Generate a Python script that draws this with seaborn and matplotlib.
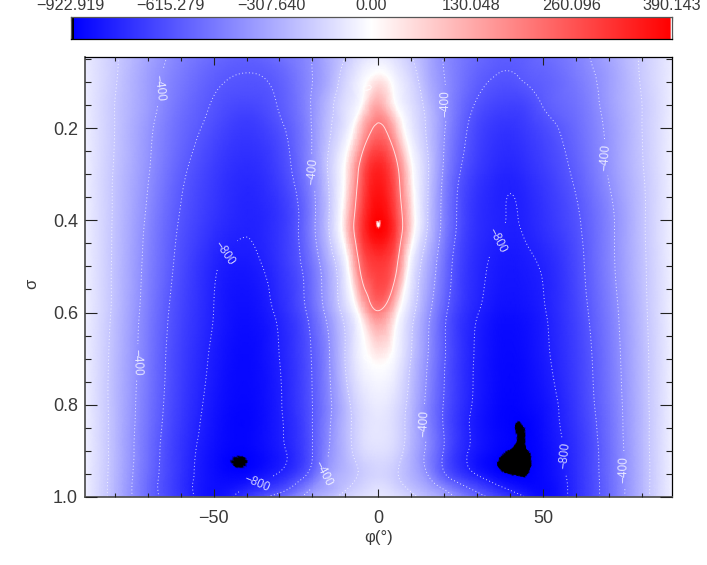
import numpy as np
import seaborn as sns
import matplotlib
matplotlib.use("Agg")
import matplotlib.pyplot as plt
import matplotlib.tri as tri
from matplotlib.colors import LinearSegmentedColormap, TwoSlopeNorm
from matplotlib.ticker import FixedLocator, NullFormatter

# values, one list per sigma row
phi = [-89, -80, -70, -60, -50, -40, -30, -20, -15, -10, -5, 0, 5, 10, 15, 20, 30, 35, 40, 45, 50, 60, 70, 80, 89]
sigma = [0.046, 0.10, 0.15, 0.20, 0.30, 0.40, 0.50, 0.60, 0.70, 0.80, 0.85, 0.90, 0.95, 0.98, 1.00]

s046 = [-70, -185, -320, -450, -530, -570, -510, -400, -290, -200, -110, -70, -110, -195, -300, -410, -530, -570, -580, -565, -530, -450, -320, -185, -70]
s010 = [-65, -190, -345, -480, -580, -615, -570, -400, -285, -145, -30, 45, -30, -140, -280, -395, -570, -610, -620, -595, -570, -480, -345, -190, -65]
s015 = [-60, -200, -350, -505, -610, -660, -590, -385, -240, -110, 10, 130, 10, -110, -240, -385, -615, -665, -680, -660, -595, -505, -350, -200, -60]
s020 = [-58, -200, -370, -530, -640, -710, -625, -390, -220, -85, 110, 215, 110, -75, -220, -390, -660, -715, -730, -700, -650, -530, -370, -200, -58]
s030 = [-55, -210, -390, -575, -700, -765, -680, -405, -185, 20, 250, 345, 250, 25, -190, -425, -710, -765, -785, -755, -705, -575, -390, -210, -55]
s040 = [-55, -215, -420, -610, -730, -790, -725, -440, -200, 65, 300, 388, 300, 65, -200, -450, -745, -785, -803, -785, -740, -620, -435, -220, -55]
s050 = [-55, -220, -440, -640, -785, -830, -735, -495, -290, -50, 230, 300, 230, -55, -290, -510, -770, -815, -835, -820, -790, -650, -440, -225, -55]
s060 = [-55, -225, -460, -665, -800, -865, -775, -540, -345, -150, 60, 190, 60, -155, -365, -570, -795, -848, -865, -850, -810, -670, -465, -235, -55]
s070 = [-55, -240, -475, -685, -820, -885, -800, -590, -410, -195, -35, 20, -35, -205, -400, -590, -815, -870, -890, -870, -825, -690, -485, -245, -55]
s080 = [-55, -245, -490, -700, -840, -895, -810, -600, -430, -250, -115, -70, -115, -250, -440, -610, -825, -880, -905, -890, -855, -710, -500, -250, -55]
s085 = [-55, -245, -500, -712, -852, -900, -815, -600, -415, -250, -125, -90, -130, -260, -435, -610, -835, -885, -910, -912, -868, -725, -510, -252, -55]
s090 = [-55, -245, -510, -725, -865, -905, -825, -600, -400, -255, -140, -110, -145, -270, -430, -610, -840, -890, -917, -917, -880, -740, -520, -255, -55]
s095 = [-55, -250, -520, -730, -870, -890, -790, -540, -340, -255, -185, -150, -185, -275, -405, -590, -810, -880, -917, -917, -885, -745, -525, -258, -55]
s098 = [-55, -255, -530, -735, -865, -800, -670, -400, -300, -215, -150, -110, -150, -225, -310, -425, -650, -745, -825, -875, -890, -750, -530, -258, -55]
s100 = [-55, -255, -525, -725, -860, -720, -540, -325, -235, -165, -110, -90, -110, -170, -250, -325, -550, -635, -730, -810, -880, -750, -530, -258, -55]

bar_labels = ["\u2212922.919", "\u2212615.279", "\u2212307.640", "0.00", "130.048", "260.096", "390.143"]
spots_neg = [(-67, 0.113), (-73, 0.708), (-20, 0.295), (20, 0.146), (70, 0.263), (15, 0.84),
             (-16, 0.953), (74.5, 0.94), (-46, 0.475), (34, 0.436), (56, 0.91), (-37, 0.97)]
spots_zero = [(-6.4, 0.107), (-2.7, 0.70)]

Z_MIN, Z_MAX = -922.919, 390.143

sns.set_theme(style="ticks")
plt.rcParams["font.family"] = ["Liberation Sans", "DejaVu Sans"]
TEXT = "#3a3a3a"

cmap = LinearSegmentedColormap.from_list(
    "bwr_black",
    [(0, "black"), (0.0042, "black"), (0.0043, "blue"), (0.5, "white"),
     (0.9985, "red"), (0.9986, "white"), (1, "white")], N=2048)
norm = TwoSlopeNorm(vmin=Z_MIN, vcenter=0, vmax=Z_MAX)

W, H = 707, 565
fig = plt.figure(figsize=(W / 100, H / 100), dpi=100)
ax = fig.add_axes([85 / W, 1 - 497 / H, 586.7 / W, 440 / H])
cax = fig.add_axes([70.7 / W, 1 - 39.3 / H, 601 / W, 22.6 / H])

# field
z = np.array([s046, s010, s015, s020, s030, s040, s050, s060, s070, s080, s085, s090, s095, s098, s100], dtype=float)
xx, yy = np.meshgrid(phi, sigma)
triang = tri.Triangulation(xx.ravel(), yy.ravel())
fine_tri, fine_z = tri.UniformTriRefiner(triang).refine_field(z.ravel(), subdiv=4)
ax.tripcolor(fine_tri, fine_z, shading="gouraud", cmap=cmap, norm=norm)

dotted = (0, (1, 2.5))
ax.tricontour(fine_tri, fine_z, levels=[-600, -200], colors="white", linewidths=0.7, alpha=0.8, linestyles=[dotted])
neg = ax.tricontour(fine_tri, fine_z, levels=[-800, -400], colors="white", linewidths=0.7, alpha=0.8, linestyles=[dotted])
zero = ax.tricontour(fine_tri, fine_z, levels=[0], colors="white", linewidths=0.7, alpha=0.75)
ax.tricontour(fine_tri, fine_z, levels=[200], colors="white", linewidths=0.7, alpha=0.75)
fmt = lambda v: f"{v:.0f}".replace("-", "\u2212")
ax.clabel(neg, fmt=fmt, fontsize=8.5, colors="white", inline=True, manual=spots_neg)
ax.clabel(zero, fmt=fmt, fontsize=8.5, colors="white", inline=True, manual=spots_zero)

ax.set_xlim(-89, 89)
ax.set_ylim(1.0, 0.046)
ax.set_xticks([-50, 0, 50], ["\u221250", "0", "50"])
ax.xaxis.set_minor_locator(FixedLocator(np.arange(-80, 81, 10)))
ax.set_yticks([0.2, 0.4, 0.6, 0.8, 1.0], ["0.2", "0.4", "0.6", "0.8", "1.0"])
ax.yaxis.set_minor_locator(FixedLocator(np.arange(0.05, 1.0, 0.05)))
ax.xaxis.set_minor_formatter(NullFormatter())
ax.yaxis.set_minor_formatter(NullFormatter())
ax.set_axisbelow(False)
ax.tick_params(axis="x", which="major", direction="in", top=True, bottom=True, length=5.8, width=0.8,
               color="#222222", labelsize=13, labelcolor=TEXT, pad=9.5)
ax.tick_params(axis="x", which="minor", direction="in", top=True, bottom=True, length=2.9, width=0.8, color="#222222")
ax.tick_params(axis="y", which="major", direction="in", left=True, right=True, length=8.6, width=0.8,
               color="#222222", labelsize=13, labelcolor=TEXT, pad=5)
ax.tick_params(axis="y", which="minor", direction="in", left=True, right=True, length=4.3, width=0.8, color="#222222")
for side in ["top", "right"]:
    ax.spines[side].set(color="black", linewidth=0.9)
for side in ["left", "bottom"]:
    ax.spines[side].set(color="#555555", linewidth=1.3)
ax.set_xlabel("\u03c6(\u00b0)", fontsize=12, color=TEXT, va="center")
ax.set_ylabel("\u03c3", fontsize=12, color=TEXT, va="center")
ax.xaxis.set_label_coords(0.5, -0.091)
ax.yaxis.set_label_coords(-0.09, 0.485)

# colour bar
bar_pos = np.linspace(0, 1, 601)
sns.heatmap(bar_pos[np.newaxis, :], cmap=cmap, vmin=0, vmax=1, cbar=False, ax=cax,
            xticklabels=False, yticklabels=False, rasterized=True)
cax.set_yticks([])
cax.set_xticks(np.linspace(0, 601, 7), bar_labels)
cax.xaxis.set_minor_locator(FixedLocator(np.linspace(0, 601, 13)))
cax.xaxis.set_minor_formatter(NullFormatter())
cax.tick_params(axis="x", which="both", direction="in", top=True, bottom=True, labeltop=True, labelbottom=False,
                length=3, width=0.8, color="#222222", labelsize=11.7, labelcolor=TEXT, pad=2.5)
for side, spine in cax.spines.items():
    spine.set_visible(True)
    spine.set(color="black" if side == "bottom" else "#555555", linewidth=0.9)

fig.savefig("out.png", dpi=100)
